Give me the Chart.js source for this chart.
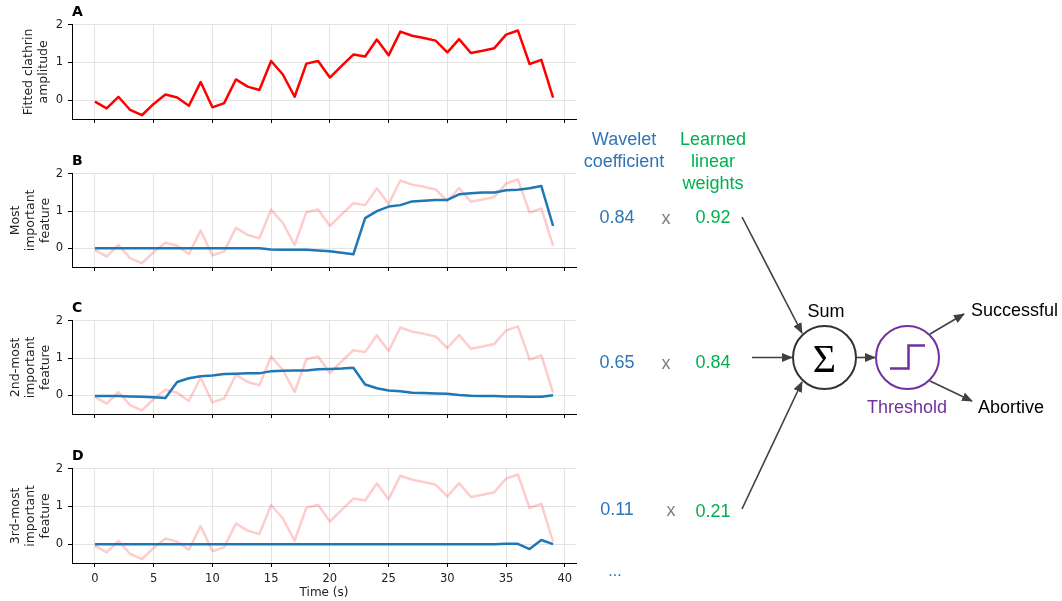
<!DOCTYPE html>
<html>
<head>
<meta charset="utf-8">
<script src="https://cdn.jsdelivr.net/npm/chart.js@4"></script>
<style>
  body { margin: 0; background: #fff; }
  #wrap { position: relative; width: 1062px; height: 601px; background: #fff; overflow: hidden; }
  #wrap canvas { position: absolute; left: 0; }
  #diagram { position: absolute; left: 0; top: 0; }
</style>
</head>
<body>
<div id="wrap">
  <canvas id="panelA" width="590" height="149" style="top:0px"></canvas>
  <canvas id="panelB" width="590" height="148" style="top:149px"></canvas>
  <canvas id="panelC" width="590" height="148" style="top:296px"></canvas>
  <canvas id="panelD" width="590" height="157" style="top:444px"></canvas>
  <svg id="diagram" width="1062" height="601"></svg>
</div>
<script>
// time axis (s)
const timeSec = [0, 1, 2, 3, 4, 5, 6, 7, 8, 9, 10, 11, 12, 13, 14, 15, 16, 17, 18, 19,
                 20, 21, 22, 23, 24, 25, 26, 27, 28, 29, 30, 31, 32, 33, 34, 35, 36, 37, 38, 39];

// fitted clathrin amplitude (panel A, faded in B-D)
const clathrinAmp = [-0.04, -0.22, 0.09, -0.26, -0.40, -0.10, 0.15, 0.07, -0.15, 0.48,
                     -0.19, -0.08, 0.55, 0.36, 0.27, 1.04, 0.68, 0.09, 0.97, 1.04,
                     0.60, 0.91, 1.21, 1.16, 1.61, 1.19, 1.82, 1.71, 1.65, 1.58,
                     1.27, 1.62, 1.25, 1.31, 1.38, 1.74, 1.85, 0.96, 1.07, 0.07];

// wavelet features
const feature1 = [0, 0, 0, 0, 0, 0, 0, 0, 0, 0,
                  0, 0, 0, 0, 0, -0.03, -0.04, -0.04, -0.04, -0.06,
                  -0.08, -0.12, -0.16, 0.81, 1.00, 1.12, 1.16, 1.26, 1.28, 1.30,
                  1.30, 1.45, 1.48, 1.50, 1.50, 1.56, 1.57, 1.61, 1.67, 0.60];
const feature2 = [-0.02, -0.02, -0.02, -0.03, -0.04, -0.05, -0.07, 0.36, 0.46, 0.51,
                  0.53, 0.57, 0.58, 0.59, 0.59, 0.65, 0.66, 0.67, 0.67, 0.70,
                  0.71, 0.72, 0.74, 0.29, 0.19, 0.13, 0.11, 0.07, 0.06, 0.05,
                  0.04, 0.01, -0.01, -0.02, -0.02, -0.03, -0.03, -0.04, -0.04, 0.00];
const feature3 = [0, 0, 0, 0, 0, 0, 0, 0, 0, 0,
                  0, 0, 0, 0, 0, 0, 0, 0, 0, 0,
                  0, 0, 0, 0, 0, 0, 0, 0, 0, 0,
                  0, 0, 0, 0, 0, 0.01, 0.01, -0.13, 0.11, 0.00];

const xTicks = [0, 5, 10, 15, 20, 25, 30, 35, 40];
const yTicks = [0, 1, 2];

// diagram values
const coefficients = ['0.84', '0.65', '0.11'];
const weights = ['0.92', '0.84', '0.21'];

const tickFont = { family: 'DejaVu Sans', size: 11.5 };
const labelFont = { family: 'DejaVu Sans', size: 12.5 };
const redLine = '#ff0000';
const pinkLine = 'rgba(255, 0, 0, 0.2)';
const blueLine = '#1f77b4';

const pairs = ys => ys.map((y, i) => ({ x: timeSec[i], y: y }));

function makePanel(id, letter, yTitle, series, showX) {
    const datasets = [];
    if (series) {
        datasets.push({ data: pairs(series), borderColor: blueLine, borderWidth: 2.5, order: 0 });
        datasets.push({ data: pairs(clathrinAmp), borderColor: pinkLine, borderWidth: 2.5, order: 1 });
    } else {
        datasets.push({ data: pairs(clathrinAmp), borderColor: redLine, borderWidth: 2.5 });
    }
    datasets.forEach(d => {
        d.pointRadius = 0;
        d.tension = 0;
        d.borderJoinStyle = 'round';
        d.fill = false;
    });

    new Chart(document.getElementById(id), {
        type: 'line',
        data: { datasets },
        options: {
            responsive: false,
            animation: false,
            devicePixelRatio: 1,
            layout: { padding: { left: 0, right: 14, top: 0, bottom: 0 } },
            plugins: {
                legend: { display: false },
                tooltip: { enabled: false },
                title: {
                    display: true,
                    text: letter,
                    align: 'start',
                    fullSize: false,
                    color: '#000',
                    font: { family: 'DejaVu Sans', size: 14, weight: 'bold' },
                    padding: { top: 4, bottom: 4 }
                }
            },
            scales: {
                x: {
                    type: 'linear',
                    min: -1.95,
                    max: 40.95,
                    afterBuildTicks: axis => { axis.ticks = xTicks.map(v => ({ value: v })); },
                    afterFit: s => { s.height = showX ? 38 : 30; },
                    grid: { color: '#e3e3e3', lineWidth: 1, drawTicks: true, tickLength: 4, tickColor: '#000' },
                    border: { display: true, color: '#000', width: 1 },
                    ticks: { display: showX, font: tickFont, color: '#222', padding: 5, maxRotation: 0 },
                    title: {
                        display: showX,
                        text: 'Time (s)',
                        color: '#222',
                        font: { family: 'DejaVu Sans', size: 12 },
                        padding: { top: 0, bottom: 1 }
                    }
                },
                y: {
                    min: -0.5,
                    max: 2,
                    afterBuildTicks: axis => { axis.ticks = yTicks.map(v => ({ value: v })); },
                    afterFit: s => { s.width = 72; },
                    grid: { color: '#e3e3e3', lineWidth: 1, drawTicks: true, tickLength: 4, tickColor: '#000' },
                    border: { display: true, color: '#000', width: 1 },
                    ticks: { font: tickFont, color: '#222', padding: 5 },
                    title: {
                        display: true,
                        text: yTitle,
                        color: '#222',
                        font: labelFont,
                        padding: { top: 42 - 7 - 13.5 * (yTitle.length - 1), bottom: 0 }
                    }
                }
            }
        }
    });
}

makePanel('panelA', 'A', ['Fitted clathrin', 'amplitude'], null, false);
makePanel('panelB', 'B', ['Most', 'important', 'feature'], feature1, false);
makePanel('panelC', 'C', ['2nd-most', 'important', 'feature'], feature2, false);
makePanel('panelD', 'D', ['3rd-most', 'important', 'feature'], feature3, true);

// ---- right-hand diagram ----
const NS = 'http://www.w3.org/2000/svg';
const svg = document.getElementById('diagram');
const blueTxt = '#2e75b6', greenTxt = '#00b050', purple = '#7030a0', arrowCol = '#404040';

function el(tag, attrs, parent) {
    const e = document.createElementNS(NS, tag);
    for (const k in attrs) e.setAttribute(k, attrs[k]);
    (parent || svg).appendChild(e);
    return e;
}
function txt(x, y, s, color, size, anchor, family) {
    const t = el('text', {
        x: x, y: y, fill: color, 'font-size': size,
        'font-family': family || 'Liberation Sans, Arial, sans-serif',
        'text-anchor': anchor || 'middle', 'dominant-baseline': 'central'
    });
    t.textContent = s;
    return t;
}

const defs = el('defs', {});
const marker = el('marker', { id: 'head', markerWidth: 11, markerHeight: 9, refX: 10, refY: 4.5,
    orient: 'auto', markerUnits: 'userSpaceOnUse' }, defs);
el('path', { d: 'M0,0 L11,4.5 L0,9 Z', fill: arrowCol }, marker);

function arrow(x1, y1, x2, y2) {
    el('line', { x1, y1, x2, y2, stroke: arrowCol, 'stroke-width': 1.6, 'marker-end': 'url(#head)' });
}

// headers
txt(624, 139, 'Wavelet', blueTxt, 18);
txt(624, 161, 'coefficient', blueTxt, 18);
txt(713, 139, 'Learned', greenTxt, 18);
txt(713, 161, 'linear', greenTxt, 18);
txt(713, 183, 'weights', greenTxt, 18);

// rows
const rowY = [217, 362, 509];
coefficients.forEach((c, i) => {
    txt(617, rowY[i], c, blueTxt, 18);
    txt(i === 2 ? 671 : 666, rowY[i] + 1, 'x', '#7f7f7f', 18);
    txt(713, rowY[i] + (i === 2 ? 2 : 0), weights[i], greenTxt, 18);
});
txt(615, 570, '...', blueTxt, 16);

// arrows into sum
arrow(742, 217, 802, 333);
arrow(752, 357.5, 792, 357.5);
arrow(742, 509, 802, 382);

// sum node
el('circle', { cx: 824.5, cy: 357.5, r: 31.5, fill: 'none', stroke: '#333', 'stroke-width': 2 });
txt(826, 311, 'Sum', '#000', 18);
txt(824.5, 358, 'Σ', '#000', 40, 'middle', 'Liberation Serif, DejaVu Serif, serif');
arrow(857, 357.5, 875, 357.5);

// threshold node
el('circle', { cx: 907.5, cy: 357.5, r: 31.5, fill: 'none', stroke: purple, 'stroke-width': 2 });
el('polyline', { points: '890,368.5 908.5,368.5 908.5,345.5 925,345.5', fill: 'none',
    stroke: purple, 'stroke-width': 2.5 });
txt(907, 407, 'Threshold', purple, 18);

// outputs
arrow(930, 334, 964, 314);
arrow(930, 381, 972, 401);
txt(971, 310, 'Successful', '#000', 18, 'start');
txt(978, 407, 'Abortive', '#000', 18, 'start');
</script>
</body>
</html>
